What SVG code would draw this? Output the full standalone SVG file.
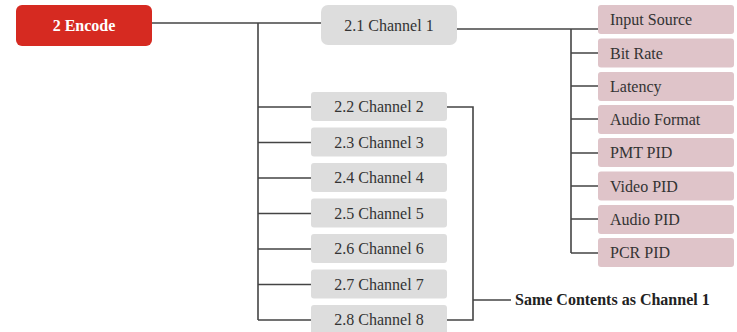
<svg xmlns="http://www.w3.org/2000/svg" width="737" height="332" viewBox="0 0 737 332">
<style>
.t{font-family:"Liberation Serif","Times New Roman",serif;font-size:16px;fill:#333}
.c{text-anchor:middle}
.b{font-weight:bold}
.gray{fill:#dddddd}
.pink{fill:#dfc4c9}
.ln{stroke:#444;stroke-width:1.6;fill:none}
</style>
<rect width="737" height="332" fill="#fff"/>
<g id="connectors" class="ln">
<path d="M152 23H321"/>
<path d="M258 23V320"/>
<path d="M258 107H311M258 142.5H311M258 178H311M258 213.5H311M258 249H311M258 284.5H311M258 320H311"/>
<path d="M457 29H598"/>
<path d="M571 29V253"/>
<path d="M571 53H598M571 86H598M571 119H598M571 153H598M571 186H598M571 219H598M571 253H598"/>
<path d="M447 107H473V320H447"/>
<path d="M473 300H511"/>
</g>
<g id="encode"><rect x="16" y="5" width="136" height="41" rx="6" fill="#d62a21"/><text class="t c b" x="84" y="31" style="fill:#fff">2 Encode</text></g>
<g id="ch1"><rect class="gray" x="321" y="5" width="136" height="40" rx="7"/><text class="t c" x="389" y="31">2.1 Channel 1</text></g>
<g id="ch2"><rect class="gray" x="311" y="92" width="136" height="29" rx="3"/><text class="t c" x="379" y="112">2.2 Channel 2</text></g>
<g id="ch3"><rect class="gray" x="311" y="127.5" width="136" height="29" rx="3"/><text class="t c" x="379" y="147.5">2.3 Channel 3</text></g>
<g id="ch4"><rect class="gray" x="311" y="163" width="136" height="29" rx="3"/><text class="t c" x="379" y="183">2.4 Channel 4</text></g>
<g id="ch5"><rect class="gray" x="311" y="198.5" width="136" height="29" rx="3"/><text class="t c" x="379" y="218.5">2.5 Channel 5</text></g>
<g id="ch6"><rect class="gray" x="311" y="234" width="136" height="29" rx="3"/><text class="t c" x="379" y="254">2.6 Channel 6</text></g>
<g id="ch7"><rect class="gray" x="311" y="269.5" width="136" height="29" rx="3"/><text class="t c" x="379" y="289.5">2.7 Channel 7</text></g>
<g id="ch8"><rect class="gray" x="311" y="305" width="136" height="29" rx="3"/><text class="t c" x="379" y="325">2.8 Channel 8</text></g>
<g id="p1"><rect class="pink" x="598" y="5" width="136" height="29" rx="3"/><text class="t" x="610" y="25">Input Source</text></g>
<g id="p2"><rect class="pink" x="598" y="38.5" width="136" height="29" rx="3"/><text class="t" x="610" y="58.5">Bit Rate</text></g>
<g id="p3"><rect class="pink" x="598" y="72" width="136" height="29" rx="3"/><text class="t" x="610" y="92">Latency</text></g>
<g id="p4"><rect class="pink" x="598" y="105" width="136" height="29" rx="3"/><text class="t" x="610" y="125">Audio Format</text></g>
<g id="p5"><rect class="pink" x="598" y="138" width="136" height="29" rx="3"/><text class="t" x="610" y="158">PMT PID</text></g>
<g id="p6"><rect class="pink" x="598" y="171.5" width="136" height="29" rx="3"/><text class="t" x="610" y="191.5">Video PID</text></g>
<g id="p7"><rect class="pink" x="598" y="205" width="136" height="29" rx="3"/><text class="t" x="610" y="225">Audio PID</text></g>
<g id="p8"><rect class="pink" x="598" y="238" width="136" height="29" rx="3"/><text class="t" x="610" y="258">PCR PID</text></g>
<g id="note"><text class="t b" x="515" y="305" style="fill:#222">Same Contents as Channel 1</text></g>
</svg>
